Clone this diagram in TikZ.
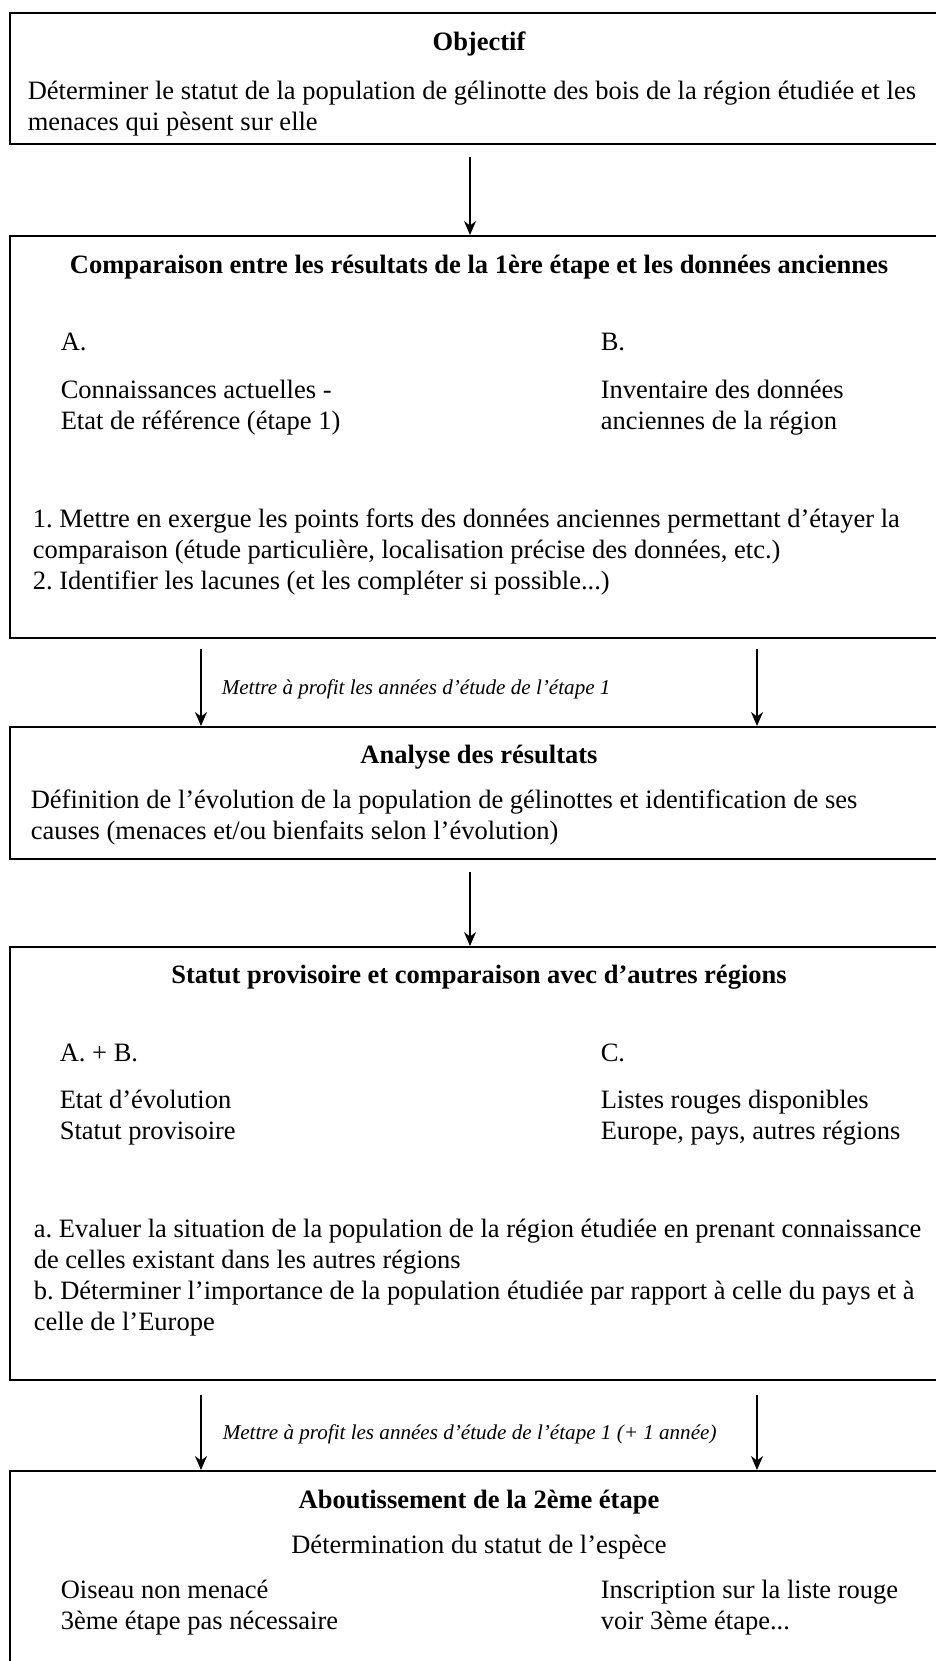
\documentclass[tikz,border=0pt]{standalone}
\usepackage{fontspec}
\setmainfont{Liberation Serif}
\usetikzlibrary{arrows.meta}
\tikzset{>={Stealth[length=7pt,width=6pt]}}
\tikzset{
  stage/.style={draw=black, line width=1pt, rectangle, inner sep=0pt,
    anchor=north west, minimum width=471pt},
  head/.style={anchor=base, inner sep=0pt, font=\fontsize{13.25}{15.5}\selectfont\bfseries},
  txt/.style={anchor=base west, inner sep=0pt, align=left,
    font=\fontsize{13.25}{15.5}\selectfont},
  note/.style={anchor=base west, inner sep=0pt,
    font=\fontsize{10.55}{12}\selectfont\itshape}
}
\frenchspacing

\begin{document}
\begin{tikzpicture}[x=0.5pt, y=-0.5pt, line width=0.8pt]
        \useasboundingbox (0,0) rectangle (936,1661);
        \clip (0,0) rectangle (936,1661);

        % Boxes
        \node at (9, 12) [stage, minimum height=65.5pt] (obj) {};
        \node at (9, 235) [stage, minimum height=201pt] (comp) {};
        \node at (9, 726) [stage, minimum height=66pt] (ana) {};
        \node at (9, 946) [stage, minimum height=216.5pt] (statut) {};
        \node at (9, 1470) [stage, minimum height=130pt] (fin) {};

        \coordinate (mid) at (470, 0);
        \coordinate (left) at (201, 0);
        \coordinate (right) at (757, 0);

        % Objectif (multi-line texts sit on their last baseline)
        \node at (479, 50) [head] (obj_title) {Objectif};
        \node at (27, 130) [txt] (obj_text) {Déterminer le statut de la population de gélinotte des bois de la région étudiée et les\\
          menaces qui pèsent sur elle};

        % Comparaison
        \node at (479, 273) [head] (comp_title) {Comparaison entre les résultats de la 1ère étape et les données anciennes};
        \node at (60, 350) [txt] (comp_a) {A.};
        \node at (600, 350) [txt] (comp_b) {B.};
        \node at (60, 429) [txt] (comp_a_text) {Connaissances actuelles -\\ Etat de référence (étape 1)};
        \node at (600, 429) [txt] (comp_b_text) {Inventaire des données\\ anciennes de la région};
        \node at (32, 589) [txt] (comp_text) {1. Mettre en exergue les points forts des données anciennes permettant d’étayer la\\
          comparaison (étude particulière, localisation précise des données, etc.)\\
          2. Identifier les lacunes (et les compléter si possible...)};

        % Analyse
        \node at (479, 763) [head] (ana_title) {Analyse des résultats};
        \node at (30, 839) [txt] (ana_text) {Définition de l’évolution de la population de gélinottes et identification de ses\\
          causes (menaces et/ou bienfaits selon l’évolution)};

        % Statut
        \node at (479, 983) [head] (statut_title) {Statut provisoire et comparaison avec d’autres régions};
        \node at (59, 1061) [txt] (statut_ab) {A. + B.};
        \node at (600, 1061) [txt] (statut_c) {C.};
        \node at (59, 1139) [txt] (statut_ab_text) {Etat d’évolution\\ Statut provisoire};
        \node at (600, 1139) [txt] (statut_c_text) {Listes rouges disponibles\\ Europe, pays, autres régions};
        \node at (33, 1330) [txt] (statut_text) {a. Evaluer la situation de la population de la région étudiée en prenant connaissance\\
          de celles existant dans les autres régions\\
          b. Déterminer l’importance de la population étudiée par rapport à celle du pays et à\\
          celle de l’Europe};

        % Aboutissement
        \node at (479, 1508) [head] (fin_title) {Aboutissement de la 2ème étape};
        \node at (479, 1553) [head, font=\fontsize{13.25}{15.5}\selectfont] (fin_sub) {Détermination du statut de l’espèce};
        \node at (60, 1629) [txt] (fin_a) {Oiseau non menacé\\ 3ème étape pas nécessaire};
        \node at (600, 1629) [txt] (fin_b) {Inscription sur la liste rouge\\ voir 3ème étape...};

        % Arrows
        \draw [->, shorten <=6pt] (obj.south -| mid) to (comp.north -| mid);
        \draw [->, shorten <=5pt] (comp.south -| left) to (ana.north -| left);
        \draw [->, shorten <=5pt] (comp.south -| right) to (ana.north -| right);
        \draw [->, shorten <=6pt] (ana.south -| mid) to (statut.north -| mid);
        \draw [->, shorten <=7pt] (statut.south -| left) to (fin.north -| left);
        \draw [->, shorten <=7pt] (statut.south -| right) to (fin.north -| right);

        % Text
        \node at (221, 694) [note] (note_1) {Mettre à profit les années d’étude de l’étape 1};
        \node at (222, 1439) [note] (note_2) {Mettre à profit les années d’étude de l’étape 1 (+ 1 année)};
      \end{tikzpicture}
\end{document}
